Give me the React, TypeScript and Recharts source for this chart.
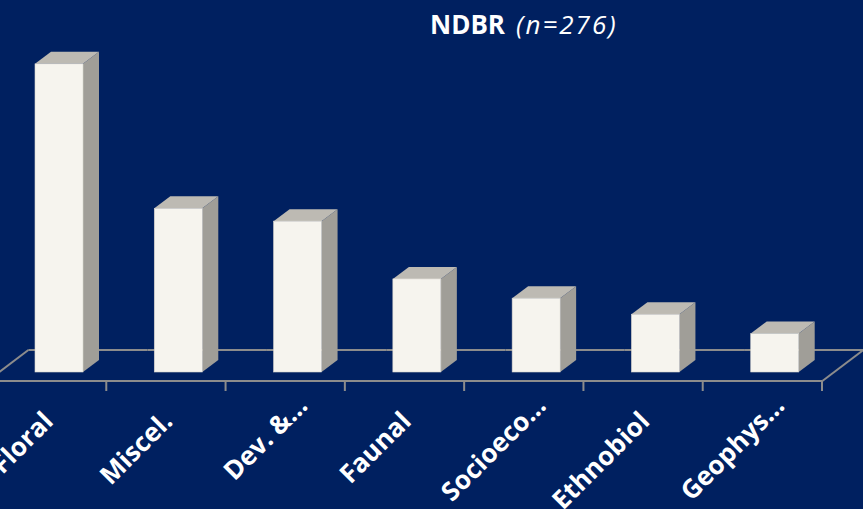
import React from 'react';
import { BarChart, Bar, XAxis, YAxis } from 'recharts';

const categories = ['Floral', 'Miscel.', 'Dev. &…', 'Faunal', 'Socioeco…', 'Ethnobiol', 'Geophys…'];
const values = [96, 51, 47, 29, 23, 18, 12];
const titleMain = 'NDBR';
const titleSub = '(n=276)';

const data = categories.map((name, i) => ({ name, value: values[i] }));

const BG = '#002060';
const FLOOR = '#8C8C8C';
const FRONT = '#F6F4EE';
const SIDE = '#A09E98';
const TOP = '#BDBAB3';

const CHART_W = 880;
const CHART_H = 509;
const MARGIN = { top: 60, right: 45, bottom: 0, left: 0 };
const PLOT_W = CHART_W - MARGIN.left - MARGIN.right;
const BAND = PLOT_W / categories.length;
const HALF = BAND / 2;
// floor depth
const FDX = 41;
const FDY = 31;
// bar position inside floor depth
const BDX = 12;
const BDY = 9;
// bar own depth
const DDX = 16;
const DDY = 12;

const Bar3D = (props: any) => {
  const { x, y, width, height } = props;
  if (height == null || width == null) return null;
  const fx = x + BDX;
  const top = y - BDY;
  const bottom = y + height - BDY;
  const side = `${fx + width},${top} ${fx + width + DDX},${top - DDY} ${fx + width + DDX},${bottom - DDY} ${fx + width},${bottom}`;
  const topFace = `${fx},${top} ${fx + width},${top} ${fx + width + DDX},${top - DDY} ${fx + DDX},${top - DDY}`;
  return (
    <g>
      <polygon points={side} fill={SIDE} />
      <polygon points={topFace} fill={TOP} />
      <rect x={fx} y={top} width={width} height={height} fill={FRONT} stroke="#D8D5CE" strokeWidth={0.6} />
    </g>
  );
};

// back edge and side edges of the floor, drawn under the bars
const FloorBack = (props: any) => {
  const { x, y, width, height, index } = props;
  if (x == null || width == null) return null;
  const c = x + width / 2;
  const base = y + height;
  const left = c - HALF;
  const right = c + HALF;
  const idx = index ?? 0;
  return (
    <g>
      <line x1={left + FDX} y1={base - FDY} x2={right + FDX} y2={base - FDY} stroke={FLOOR} strokeWidth={2} />
      {idx === 0 && (
        <line x1={left} y1={base} x2={left + FDX} y2={base - FDY} stroke={FLOOR} strokeWidth={2} />
      )}
      {idx === categories.length - 1 && (
        <line x1={right} y1={base} x2={right + FDX} y2={base - FDY} stroke={FLOOR} strokeWidth={2} />
      )}
    </g>
  );
};

const ELL = '…';

const FloorTick = (props: any) => {
  const { x, y, payload } = props;
  const right = x + HALF;
  const lx = x + 8;
  const ly = y + 42;
  const label: string = String(payload.value);
  const truncated = label.endsWith(ELL);
  const main = truncated ? label.slice(0, -1) : label;
  return (
    <g>
      <line x1={right} y1={y} x2={right} y2={y + 10} stroke={FLOOR} strokeWidth={2} />
      <text
        x={lx}
        y={ly}
        transform={`rotate(-45 ${lx} ${ly})`}
        textAnchor="end"
        fill="#FFFFFF"
        fontFamily="'Open Sans', sans-serif"
        fontWeight={700}
        fontSize={26}
      >
        {main}
        {truncated && (
          <tspan x={lx} y={ly} textAnchor="start">
            {ELL}
          </tspan>
        )}
      </text>
    </g>
  );
};

export default function App() {
  return (
    <div
      style={{
        position: 'absolute',
        left: 0,
        top: 0,
        width: 863,
        height: 509,
        background: BG,
        overflow: 'hidden',
      }}
    >
      <div style={{ position: 'absolute', left: -13, top: 0 }}>
        <BarChart width={CHART_W} height={CHART_H} data={data} margin={MARGIN} barSize={48}>
          <XAxis
            dataKey="name"
            interval={0}
            height={128}
            tickLine={false}
            tickSize={0}
            tickMargin={0}
            axisLine={{ stroke: FLOOR, strokeWidth: 2 }}
            tick={<FloorTick />}
          />
          <YAxis hide domain={[0, 100]} />
          <Bar
            dataKey="value"
            shape={<Bar3D />}
            background={<FloorBack />}
            isAnimationActive={false}
          />
        </BarChart>
      </div>
      <div
        style={{
          position: 'absolute',
          left: 430,
          top: 11,
          lineHeight: '26px',
          fontSize: 26,
          fontFamily: "'Open Sans', sans-serif",
          color: '#FFFFFF',
          whiteSpace: 'nowrap',
        }}
      >
        <span style={{ fontWeight: 700 }}>{titleMain}</span>
        <span style={{ fontStyle: 'italic', marginLeft: 11, letterSpacing: 2 }}>{titleSub}</span>
      </div>
    </div>
  );
}
